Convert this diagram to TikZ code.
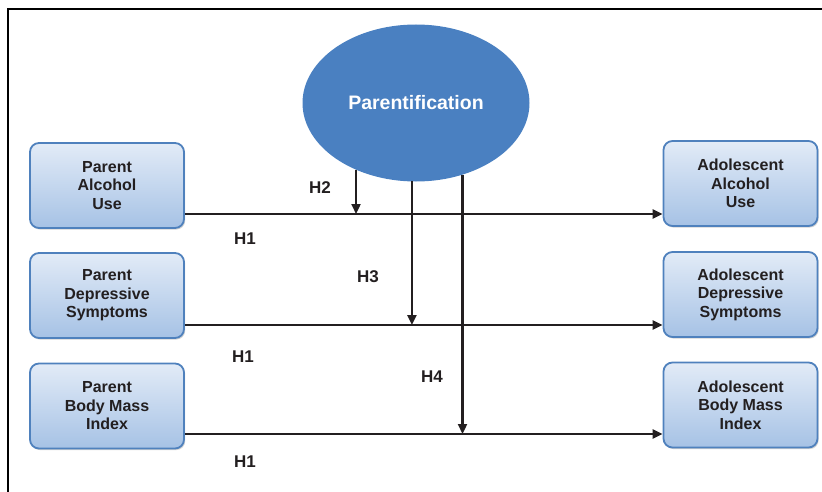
\documentclass[tikz,border=0pt]{standalone}
\usepackage{fontspec}
\setmainfont{Liberation Sans}
\usetikzlibrary{arrows.meta,shapes.geometric,shadows}
\definecolor{boxblue}{RGB}{79,129,189}
\definecolor{ellblue}{RGB}{74,128,193}
\definecolor{boxtop}{RGB}{226,235,247}
\definecolor{boxbot}{RGB}{166,194,229}
\definecolor{inkgray}{RGB}{35,31,32}

\begin{document}
\begin{tikzpicture}[x=1pt,y=-1pt,
varbox/.style={rectangle, rounded corners=9pt, draw=boxblue, line width=1.8pt, top color=boxtop, bottom color=boxbot, minimum width=154pt, minimum height=85pt, inner sep=0pt, align=center, text=inkgray, font=\fontsize{16}{18.5}\selectfont\bfseries, drop shadow={shadow xshift=1.2pt, shadow yshift=-1.6pt, fill=black!35}},
pathline/.style={draw=inkgray, line width=2.3pt, -{Triangle[length=10pt,width=9pt]}},
hlabel/.style={text=inkgray, font=\fontsize{17}{18}\selectfont\bfseries, inner sep=0pt}
]
\useasboundingbox (0,0) rectangle (822,492);
\draw[line width=2.8pt] (8,492) -- (8,9) -- (822,9);

\node [ellipse, fill=ellblue, minimum width=227pt, minimum height=157pt, inner sep=0pt, outer sep=0pt, text=white, font=\fontsize{19.5}{22}\selectfont\bfseries] (par) at (416,103) {Parentification};

    \node [varbox] (pa1) at (107,185.5) {Parent\\Alcohol\\Use};
    \node [varbox] (pa2) at (107,295.5) {Parent\\Depressive\\Symptoms};
    \node [varbox] (pa3) at (107,406) {Parent\\Body Mass\\Index};

    \node [varbox] (ad1) at (740.5,183.5) {Adolescent\\Alcohol\\Use};
    \node [varbox] (ad2) at (740.5,294.5) {Adolescent\\Depressive\\Symptoms};
    \node [varbox] (ad3) at (740.5,405) {Adolescent\\Body Mass\\Index};

    \coordinate (r1) at (0,214);
    \coordinate (r2) at (0,325);
    \coordinate (r3) at (0,434);

    \draw [pathline] (pa1.east |- r1) -- (ad1.west |- r1);
    \draw [pathline] (pa2.east |- r2) -- (ad2.west |- r2);
    \draw [pathline] (pa3.east |- r3) -- (ad3.west |- r3);

    \draw [pathline] (par.-132.8) -- (par.-132.8 |- r1);
    \draw [pathline] (par.-93.7) -- (par.-93.7 |- r2);
    \draw [pathline] (par.-57.9) -- (par.-57.9 |- r3);

    \node [hlabel] (h2) at (320,188) {H2};
    \node [hlabel] (h3) at (368,277) {H3};
    \node [hlabel] (h4) at (432,377) {H4};
    \node [hlabel] (h1a) at (245,239) {H1};
    \node [hlabel] (h1b) at (243,357) {H1};
    \node [hlabel] (h1c) at (245,462) {H1};
\end{tikzpicture}
\end{document}
